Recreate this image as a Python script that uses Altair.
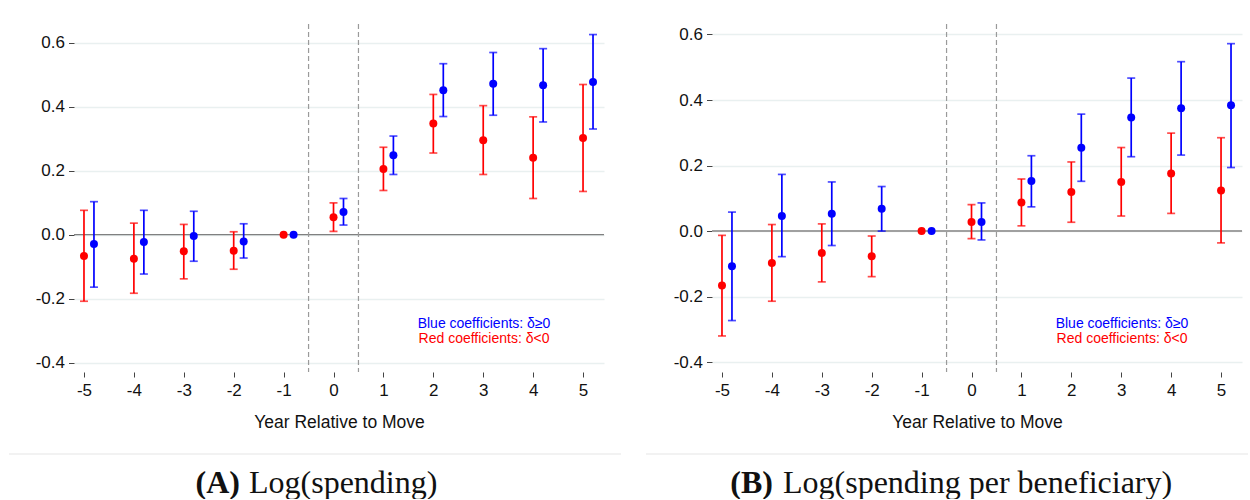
import altair as alt
import pandas as pd

# ---------------- data ----------------
years = [-5, -4, -3, -2, -1, 0, 1, 2, 3, 4, 5]

a_red_coef = [-0.067, -0.075, -0.052, -0.050, 0.0, 0.054, 0.205, 0.347, 0.295, 0.240, 0.302]
a_red_lo   = [-0.208, -0.183, -0.138, -0.108, 0.0, 0.010, 0.138, 0.255, 0.188, 0.113, 0.135]
a_red_hi   = [0.076, 0.036, 0.032, 0.009, 0.0, 0.099, 0.273, 0.438, 0.403, 0.368, 0.469]
a_blue_coef = [-0.029, -0.023, -0.004, -0.021, 0.0, 0.071, 0.248, 0.451, 0.471, 0.467, 0.477]
a_blue_lo   = [-0.164, -0.123, -0.083, -0.073, 0.0, 0.030, 0.188, 0.369, 0.373, 0.352, 0.330]
a_blue_hi   = [0.103, 0.076, 0.073, 0.034, 0.0, 0.113, 0.308, 0.534, 0.569, 0.581, 0.625]

b_red_coef = [-0.166, -0.097, -0.067, -0.077, 0.0, 0.028, 0.087, 0.119, 0.150, 0.176, 0.124]
b_red_lo   = [-0.320, -0.214, -0.155, -0.139, 0.0, -0.023, 0.016, 0.027, 0.046, 0.054, -0.036]
b_red_hi   = [-0.013, 0.020, 0.022, -0.015, 0.0, 0.081, 0.159, 0.211, 0.255, 0.299, 0.285]
b_blue_coef = [-0.107, 0.046, 0.053, 0.068, 0.0, 0.028, 0.153, 0.254, 0.347, 0.375, 0.384]
b_blue_lo   = [-0.273, -0.078, -0.044, 0.000, 0.0, -0.027, 0.074, 0.152, 0.227, 0.232, 0.194]
b_blue_hi   = [0.058, 0.173, 0.150, 0.136, 0.0, 0.086, 0.230, 0.357, 0.467, 0.517, 0.572]

y_ticks = [-0.4, -0.2, 0.0, 0.2, 0.4, 0.6]
vlines = [-0.5, 0.5]
legend_blue = "Blue coefficients: \u03b4\u22650"
legend_red = "Red coefficients: \u03b4<0"
x_title = "Year Relative to Move"
cap_a = ("(A)", "Log(spending)")
cap_b = ("(B)", "Log(spending per beneficiary)")

SANS = "Liberation Sans, Arial, sans-serif"
SERIF = "Liberation Serif, Times New Roman, serif"


def make_df(rc, rl, rh, bc, bl, bh):
    rows = []
    for i, yr in enumerate(years):
        rows.append(dict(year=yr, group="red", coef=rc[i], lo=rl[i], hi=rh[i]))
        rows.append(dict(year=yr, group="blue", coef=bc[i], lo=bl[i], hi=bh[i]))
    return pd.DataFrame(rows)


def build(df, ydom, zero_color, zero_width, cap, sep_x, sep_x2, cap_r, cap_l):
    xsc = alt.Scale(domain=[-5.2, 5.42], nice=False, zero=False)
    ysc = alt.Scale(domain=ydom, nice=False, zero=False)
    xaxis = alt.Axis(
        values=years, title=x_title, grid=False, domain=False,
        tickSize=5, tickColor="#444", labelFontSize=17, labelFont=SANS,
        labelColor="#111", labelPadding=5, titleFont=SANS, titleFontSize=17.5,
        titleFontWeight="normal", titleColor="#111", titlePadding=15,
        labelExpr="datum.value < 0 ? '-' + format(-datum.value, 'd') : format(datum.value, 'd')",
    )
    yaxis = alt.Axis(
        values=y_ticks, title=None, grid=True, gridColor="#e9f0f0", gridWidth=1.3,
        domain=False, tickSize=5.5, tickColor="#444", labelFontSize=17,
        labelFont=SANS, labelColor="#111", labelPadding=4,
        labelExpr="datum.value < 0 ? '-' + format(-datum.value, '.1f') : format(datum.value, '.1f')",
    )
    color = alt.Color(
        "group:N",
        scale=alt.Scale(domain=["blue", "red"], range=["#0000ff", "#ff0000"]),
        legend=None,
    )

    base = alt.Chart(df).transform_calculate(
        xpos="datum.year + (datum.group == 'blue' ? 0.2 : 0)"
    )
    X = alt.X("xpos:Q", scale=xsc, axis=xaxis)

    zero = alt.Chart(pd.DataFrame({"z": [0.0]})).mark_rule(
        color=zero_color, strokeWidth=zero_width
    ).encode(y=alt.Y("z:Q", scale=ysc, axis=yaxis))

    dashes = alt.Chart(pd.DataFrame({"v": vlines})).mark_rule(
        color="#9a9a9a", strokeDash=[5, 3], strokeWidth=1.2
    ).encode(x=alt.X("v:Q", scale=xsc, axis=xaxis))

    bars_base = base.transform_filter("datum.lo != datum.hi")
    bars = bars_base.mark_rule(strokeWidth=1.7).encode(
        x=X, y=alt.Y("lo:Q", scale=ysc, axis=yaxis), y2="hi:Q", color=color
    )
    cap_lo = bars_base.mark_tick(orient="horizontal", size=8, thickness=1.7).encode(
        x=X, y=alt.Y("lo:Q", scale=ysc, axis=yaxis), color=color
    )
    cap_hi = bars_base.mark_tick(orient="horizontal", size=8, thickness=1.7).encode(
        x=X, y=alt.Y("hi:Q", scale=ysc, axis=yaxis), color=color
    )
    pts = base.mark_circle(size=64, opacity=1).encode(
        x=X, y=alt.Y("coef:Q", scale=ysc, axis=yaxis), color=color
    )

    lb = alt.Chart(pd.DataFrame({"t": [legend_blue]})).mark_text(
        color="#0000ff", font=SANS, fontSize=14, align="center", baseline="alphabetic"
    ).encode(text="t:N", x=alt.value(410), y=alt.value(304))
    lr = alt.Chart(pd.DataFrame({"t": [legend_red]})).mark_text(
        color="#ff0000", font=SANS, fontSize=14, align="center", baseline="alphabetic"
    ).encode(text="t:N", x=alt.value(410), y=alt.value(319))

    one = pd.DataFrame({"a": [0]})
    sep = alt.Chart(one).mark_rule(color="#e6e6e6", strokeWidth=1.2).encode(
        x=alt.value(sep_x), x2=alt.value(sep_x2), y=alt.value(430)
    )
    c1 = alt.Chart(pd.DataFrame({"t": [cap[0]]})).mark_text(
        font=SERIF, fontSize=32, fontWeight="bold", align="right",
        baseline="alphabetic", color="#111"
    ).encode(text="t:N", x=alt.value(cap_r), y=alt.value(469))
    c2 = alt.Chart(pd.DataFrame({"t": [cap[1]]})).mark_text(
        font=SERIF, fontSize=32, align="left", baseline="alphabetic", color="#111"
    ).encode(text="t:N", x=alt.value(cap_l), y=alt.value(469))
    return alt.layer(zero, dashes, bars, cap_lo, cap_hi, pts, lb, lr, sep, c1, c2).properties(
        width=530, height=348
    )


df_a = make_df(a_red_coef, a_red_lo, a_red_hi, a_blue_coef, a_blue_lo, a_blue_hi)
df_b = make_df(b_red_coef, b_red_lo, b_red_hi, b_blue_coef, b_blue_lo, b_blue_hi)

panel_a = build(df_a, [-0.429, 0.658], "#808080", 1.3, cap_a, -65, 547, 166, 175)
panel_b = build(df_b, [-0.430, 0.632], "#a0a0a0", 2.0, cap_b, -66, 536, 61, 71)

chart = alt.hconcat(panel_a, panel_b, spacing=23).properties(
    padding={"left": 8, "top": 23, "right": 0, "bottom": 0},
    background="white",
).configure_view(stroke=None)

chart.save("out.html", embed_options={"renderer": "svg", "actions": False})
